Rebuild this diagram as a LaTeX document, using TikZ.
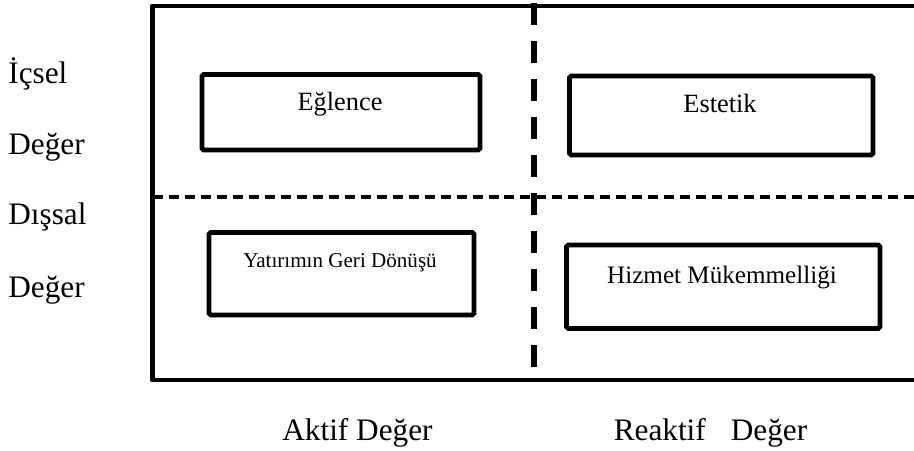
\documentclass[tikz,border=0pt]{standalone}
\usepackage{fontspec}
\setmainfont{Liberation Serif}
\usepackage{tikz}
\usetikzlibrary{backgrounds}
\pgfdeclarelayer{edgelayer}
\pgfdeclarelayer{nodelayer}
\pgfsetlayers{edgelayer,nodelayer,main}
\tikzstyle{none}=[inner sep=0pt]
\tikzstyle{sidelabel}=[inner sep=0pt,font=\fontsize{17.8}{20}\selectfont]
\tikzstyle{valuebox}=[rectangle,draw=black,line width=2.8pt,rounded corners=1pt,inner sep=0pt]
\tikzstyle{boxtext}=[inner sep=0pt,anchor=base,font=\fontsize{15}{18}\selectfont]
\tikzstyle{frame}=[line width=2.8pt,line join=round]
\tikzstyle{rowsplit}=[line width=1.8pt,dash pattern=on 0.2cm off 0.12cm]
\tikzstyle{colsplit}=[line width=3.4pt,dash pattern=on 0.44cm off 0.32cm]

\begin{document}
\begin{tikzpicture}
	\useasboundingbox (0,0) rectangle (18.28,9);
	\begin{pgfonlayer}{nodelayer}
		\node [style=valuebox, minimum width=5.56cm, minimum height=1.51cm] (eglence) at (6.82, 6.755) {};
		\node [style=valuebox, minimum width=6.07cm, minimum height=1.58cm] (estetik) at (14.425, 6.69) {};
		\node [style=valuebox, minimum width=5.3cm, minimum height=1.65cm] (getiri) at (6.83, 3.525) {};
		\node [style=valuebox, minimum width=6.27cm, minimum height=1.67cm] (hizmet) at (14.465, 3.265) {};
		\node [style=boxtext] (eglenceT) at (6.8, 6.8) {Eğlence};
		\node [style=boxtext] (estetikT) at (14.4, 6.76) {Estetik};
		\node [style=boxtext, font=\fontsize{12}{14}\selectfont] (getiriT) at (6.8, 3.66) {Yatırımın Geri Dönüşü};
		\node [style=boxtext, font=\fontsize{14.3}{17}\selectfont] (hizmetT) at (14.44, 3.34) {Hizmet Mükemmelliği};
		% row labels
		\node [style=sidelabel, anchor=base west] (icA) at (0.16, 7.33) {İçsel};
		\node [style=sidelabel, anchor=base west] (icB) at (0.16, 5.92) {Değer};
		\node [style=sidelabel, anchor=base west] (disA) at (0.16, 4.52) {Dışsal};
		\node [style=sidelabel, anchor=base west] (disB) at (0.16, 3.06) {Değer};
		% column labels
		\node [style=sidelabel, anchor=base] (aktif) at (7.15, 0.2) {Aktif Değer};
		\node [style=sidelabel, anchor=base] (reaktif) at (14.21, 0.2) {Reaktif\hspace{0.8em}Değer};
		\coordinate (FTR) at (18.28, 8.88);
		\coordinate (FTL) at (3.05, 8.88);
		\coordinate (FBL) at (3.05, 1.4);
		\coordinate (FBR) at (18.28, 1.4);
		\coordinate (RL) at (3.05, 5.06);
		\coordinate (RR) at (18.28, 5.06);
		\coordinate (CT) at (10.68, 8.94);
		\coordinate (CB) at (10.68, 1.66);
	\end{pgfonlayer}
	\begin{pgfonlayer}{edgelayer}
		\draw [style=frame] (FTR) -- (FTL) -- (FBL) -- (FBR);
		\draw [style=rowsplit] (RL) -- (RR);
		\draw [style=colsplit] (CT) -- (CB);
	\end{pgfonlayer}
\end{tikzpicture}
\end{document}
